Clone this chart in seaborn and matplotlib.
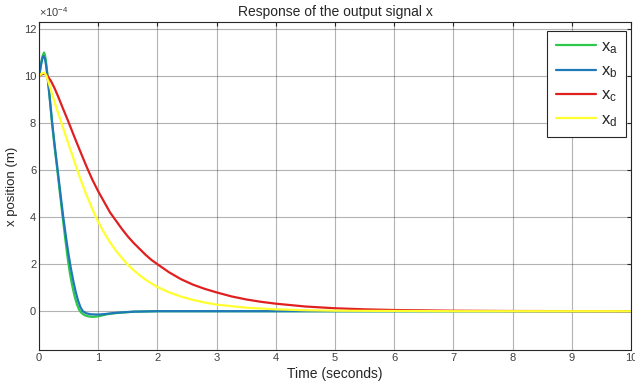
import numpy as np
import pandas as pd
import matplotlib
matplotlib.use("Agg")
import matplotlib.pyplot as plt
import seaborn as sns

# values in units of 1e-4 m
t_a = [0, 0.02, 0.04, 0.06, 0.085, 0.1, 0.12, 0.145, 0.18, 0.22, 0.26, 0.31, 0.35, 0.4, 0.45,
       0.49, 0.52, 0.56, 0.6, 0.64, 0.68, 0.72, 0.77, 0.83, 0.9, 0.97, 1.05, 1.15, 1.3, 1.45,
       1.6, 1.8, 2.0, 2.5, 10.0]
x_a = [10.0, 10.3, 10.6, 10.85, 11.0, 10.9, 10.6, 10.0, 9.1, 8.0, 7.05, 6.0, 5.1, 4.0, 2.95,
       2.15, 1.65, 1.1, 0.65, 0.3, 0.05, -0.08, -0.17, -0.22, -0.24, -0.23, -0.19, -0.13,
       -0.08, -0.05, -0.02, -0.01, 0.0, 0.0, 0.0]

t_b = [0, 0.02, 0.04, 0.06, 0.08, 0.1, 0.12, 0.15, 0.19, 0.23, 0.27, 0.32, 0.36, 0.41, 0.46,
       0.5, 0.54, 0.58, 0.62, 0.66, 0.7, 0.74, 0.8, 0.87, 0.95, 1.03, 1.12, 1.25, 1.4, 1.6,
       1.8, 2.0, 2.5, 10.0]
x_b = [10.0, 10.25, 10.55, 10.78, 10.85, 10.75, 10.45, 9.85, 8.85, 7.85, 6.95, 5.9, 5.05, 4.0,
       3.08, 2.4, 1.8, 1.28, 0.82, 0.45, 0.17, 0.0, -0.09, -0.13, -0.14, -0.14, -0.12, -0.08,
       -0.05, -0.02, -0.01, 0.0, 0.0, 0.0]

t_c = [0, 0.04, 0.085, 0.13, 0.2, 0.26, 0.32, 0.4, 0.49, 0.6, 0.7, 0.8, 0.9, 1.0, 1.1, 1.2,
       1.3, 1.4, 1.5, 1.6, 1.7, 1.8, 1.9, 2.0, 2.2, 2.4, 2.6, 2.8, 3.0, 3.25, 3.5, 3.75, 4.0,
       4.5, 5.0, 5.5, 6.0, 7.0, 8.0, 10.0]
x_c = [10.0, 10.07, 10.1, 10.05, 9.8, 9.5, 9.15, 8.65, 8.1, 7.4, 6.78, 6.17, 5.6, 5.1, 4.65,
       4.2, 3.85, 3.5, 3.18, 2.9, 2.65, 2.4, 2.18, 2.0, 1.65, 1.36, 1.13, 0.95, 0.8, 0.63, 0.5,
       0.4, 0.32, 0.2, 0.125, 0.08, 0.05, 0.02, 0.008, 0.0]

t_d = [0, 0.04, 0.085, 0.12, 0.16, 0.22, 0.3, 0.4, 0.5, 0.6, 0.7, 0.8, 0.9, 1.0, 1.1, 1.2,
       1.3, 1.4, 1.5, 1.6, 1.7, 1.8, 1.9, 2.0, 2.2, 2.4, 2.6, 2.8, 3.0, 3.5, 4.0, 4.5, 5.0,
       6.0, 7.0, 10.0]
x_d = [10.0, 10.1, 10.15, 10.05, 9.75, 9.25, 8.6, 7.85, 7.1, 6.35, 5.62, 4.95, 4.35, 3.8,
       3.34, 2.93, 2.57, 2.26, 1.98, 1.74, 1.53, 1.34, 1.18, 1.03, 0.8, 0.62, 0.48, 0.37, 0.28,
       0.15, 0.08, 0.04, 0.02, 0.01, 0.0, 0.0]

labels = [r"$\mathregular{x_a}$", r"$\mathregular{x_b}$", r"$\mathregular{x_c}$", r"$\mathregular{x_d}$"]
colors = ["#2ec84a", "#1f78b8", "#e02020", "#ffff30"]

frames = []
for lab, tt, xx in zip(labels, [t_a, t_b, t_c, t_d], [x_a, x_b, x_c, x_d]):
    frames.append(pd.DataFrame({"t": tt, "x": xx, "signal": lab}))
df = pd.concat(frames, ignore_index=True)

sns.set_style("white")
plt.rcParams["font.family"] = ["Liberation Sans", "DejaVu Sans"]
plt.rcParams["mathtext.fontset"] = "custom"
plt.rcParams["mathtext.rm"] = "Liberation Sans"

fig = plt.figure(figsize=(6.35, 3.85), dpi=100)
ax = fig.add_axes([0.0614, 0.0909, 0.9323, 0.852])

sns.lineplot(data=df, x="t", y="x", hue="signal", hue_order=labels,
             palette=dict(zip(labels, colors)), linewidth=1.6, ax=ax,
             estimator=None, sort=False)
for ln in ax.get_lines():
    ln.set_solid_joinstyle("round")
    ln.set_solid_capstyle("round")

ax.set_xlim(0, 10)
ax.set_ylim(-1.65, 12.3)
ax.set_xticks(range(0, 11))
ax.set_yticks(range(0, 13, 2))
ax.grid(True, color="#262626", alpha=0.35, linewidth=0.8)
ax.tick_params(direction="in", length=3, labelsize=8, labelcolor="#404040",
               top=True, right=True, color="#262626", pad=2)
for s in ax.spines.values():
    s.set_color("#262626")
    s.set_linewidth(0.8)
    s.set_visible(True)

ax.set_title("Response of the output signal x", fontsize=10, pad=4)
ax.set_xlabel("Time (seconds)", fontsize=10, labelpad=3)
ax.set_ylabel("x position (m)", fontsize=9.5, labelpad=4)
ax.text(0.0, 1.01, r"$\times\mathregular{10^{-4}}$", transform=ax.transAxes,
        fontsize=8, color="#404040", ha="left", va="bottom")

leg = ax.legend(loc="upper right", fontsize=12, frameon=True, fancybox=False,
                edgecolor="#262626", framealpha=1, handlelength=2.4,
                borderaxespad=0.0, labelspacing=0.45, handletextpad=0.3,
                borderpad=0.5, bbox_to_anchor=(0.9916, 0.9726))
leg.get_frame().set_linewidth(0.8)

fig.savefig("out.png", dpi=100)
